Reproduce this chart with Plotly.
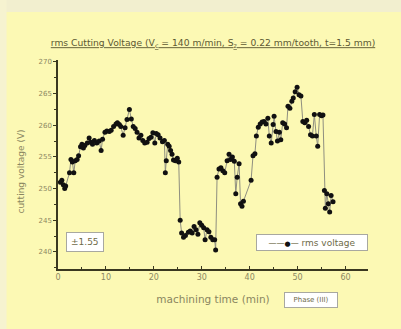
import plotly.graph_objects as go

time_min = [0.5, 0.8, 1.1, 1.4, 1.6, 2.4, 2.7, 3.0, 3.3, 3.6, 4.0, 4.3, 4.7, 5.0, 5.3, 5.6, 6.1, 6.5, 6.8, 7.2,
            7.6, 8.1, 8.6, 9.0, 9.3, 9.8, 10.2, 10.7, 11.1, 11.6, 12.1, 12.4, 12.8, 13.1, 13.6, 14.0, 14.4, 14.9, 15.3, 15.7,
            16.1, 16.5, 16.9, 17.3, 17.7, 18.1, 18.6, 19.0, 19.4, 19.8, 20.2, 20.5, 20.9, 21.3, 21.8, 22.2, 22.4, 22.6, 22.9, 23.2,
            23.5, 23.8, 24.1, 24.5, 24.9, 25.2, 25.5, 25.8, 26.2, 26.6, 27.2, 27.6, 28.0, 28.4, 28.8, 29.2, 29.6, 30.0, 30.4, 30.7,
            31.1, 31.5, 31.9, 32.3, 32.7, 32.9, 33.2, 33.6, 34.0, 34.4, 34.8, 35.3, 35.7, 36.0, 36.4, 36.8, 37.1, 37.4, 37.8, 38.1,
            38.4, 38.7, 40.3, 40.7, 41.1, 41.4, 41.8, 42.2, 42.6, 43.0, 43.4, 43.8, 44.1, 44.5, 44.9, 45.1, 45.5, 45.8, 46.2, 46.5,
            46.9, 47.3, 47.7, 48.0, 48.4, 48.8, 49.1, 49.5, 49.9, 50.3, 50.7, 51.1, 51.5, 51.9, 52.3, 52.7, 53.1, 53.5, 53.9, 54.2,
            54.6, 55.0, 55.3, 55.6, 55.8, 56.1, 56.4, 56.7, 57.0, 57.4]
rms_voltage = [251.0, 251.3, 250.6, 250.0, 250.4, 252.5, 254.6, 254.2, 252.5, 254.4, 254.6, 255.2, 256.6, 257.0, 256.4, 256.8, 257.2, 258.0, 257.3, 257.0,
               257.6, 257.2, 257.5, 256.0, 257.8, 258.9, 259.1, 259.0, 259.2, 259.8, 260.2, 260.4, 260.1, 259.8, 258.4, 259.6, 260.9, 262.5, 261.0, 259.8,
               259.5, 258.9, 258.0, 258.4, 257.6, 257.2, 257.3, 257.9, 258.1, 258.8, 257.2, 258.7, 258.5, 258.0, 257.4, 257.6, 252.5, 254.4, 257.0, 256.7,
               256.0, 255.4, 254.5, 254.4, 254.8, 254.2, 245.0, 243.0, 242.3, 242.6, 243.1, 243.3, 243.0, 244.0, 243.5, 242.8, 244.6, 244.2, 243.8, 241.9,
               243.5, 243.2, 242.3, 241.9, 241.9, 240.3, 251.8, 253.1, 253.3, 252.8, 252.5, 254.4, 255.4, 254.6, 255.0, 254.3, 249.2, 251.8, 253.9, 247.6,
               247.2, 248.0, 251.3, 255.2, 255.5, 258.3, 259.7, 260.2, 260.5, 260.6, 260.2, 261.1, 258.3, 257.2, 260.1, 261.4, 259.0, 257.5, 258.9, 257.7,
               260.4, 260.2, 259.6, 263.0, 262.7, 263.8, 264.3, 265.3, 266.0, 264.8, 264.6, 260.6, 260.4, 260.8, 259.8, 258.5, 258.3, 261.7, 258.3, 256.7,
               261.7, 261.5, 261.6, 249.7, 246.9, 249.2, 247.6, 246.3, 248.9, 247.9]

x_ticks = [0, 10, 20, 30, 40, 50, 60]
y_ticks = [240, 245, 250, 255, 260, 265, 270]
series_name = "rms voltage"

axis_col = "#3a3820"
label_col = "#8c8862"
bg = "#fcf9b4"
line_col = "#8f8f80"

fig = go.Figure()
fig.add_trace(go.Scatter(
    x=time_min, y=rms_voltage, mode="lines+markers", name=series_name,
    line=dict(color=line_col, width=1),
    marker=dict(color="#111111", size=5),
    showlegend=False,
))

legend_text = (f"<span style='color:#6e6a48;font-size:8px'>——</span>"
               f"<span style='color:#111111;font-size:7px'>●</span>"
               f"<span style='color:#6e6a48;font-size:8px'>—</span> {series_name}")

fig.update_layout(
    width=401, height=329,
    margin=dict(l=57.5, r=33, t=60, b=60, autoexpand=False),
    paper_bgcolor=bg, plot_bgcolor=bg,
    font=dict(family="DejaVu Sans", color=label_col, size=8),
    title=dict(
        text="<u>rms Cutting Voltage (V<sub>c</sub> = 140 m/min, S<sub>z</sub> = 0.22 mm/tooth, t=1.5 mm)</u>",
        x=0.5, xanchor="center", xref="paper", y=1 - 43 / 329, yanchor="middle",
        font=dict(size=9.2, color="#5c5832", family="DejaVu Sans"),
    ),
    showlegend=False,
    shapes=[
        dict(type="rect", xref="paper", yref="paper", x0=-0.2, x1=1.12,
             y0=(269 - 12) / 209, y1=1.3, fillcolor="#f2efcf", line=dict(width=0), layer="below"),
        dict(type="rect", xref="paper", yref="paper", x0=-0.2, x1=-0.166,
             y0=-0.3, y1=1.3, fillcolor="#f6f3d0", line=dict(width=0), layer="below"),
    ],
    annotations=[
        dict(text="cutting voltage (V)", xref="paper", yref="paper", x=(20 - 57.5) / 310.5, y=(269 - 172) / 209,
             xanchor="center", yanchor="middle", textangle=-90, showarrow=False,
             font=dict(size=9, color="#8a8660")),
        dict(text="±1.55", xref="paper", yref="paper", x=0.0886, y=0.129,
             xanchor="center", yanchor="middle",
             showarrow=False, bgcolor="#ffffff", bordercolor="#a8a8a0", borderwidth=1,
             borderpad=4, font=dict(size=9, color="#6e6a48")),
        dict(text=legend_text, xref="paper", yref="paper", x=0.82, y=0.129,
             xanchor="center", yanchor="middle", width=106, height=11, align="center",
             showarrow=False, bgcolor="#ffffff", bordercolor="#a8a8a0", borderwidth=1,
             borderpad=2, font=dict(size=9, color="#6e6a48")),
        dict(text="Phase (III)", xref="paper", yref="paper", x=0.816, y=-0.148,
             xanchor="center", yanchor="middle", width=46,
             showarrow=False, bgcolor="#ffffff", bordercolor="#a8a8a0", borderwidth=1,
             borderpad=3, font=dict(size=7, color="#6e6a48")),
    ],
)

fig.update_xaxes(
    range=[0, 64.7], tickvals=x_ticks, ticks="inside", ticklen=3, tickwidth=1, tickcolor=axis_col,
    minor=dict(dtick=5, tick0=0, ticks="inside", ticklen=2, tickcolor=axis_col),
    showline=True, linecolor=axis_col, linewidth=1.5, showgrid=False, zeroline=False,
    tickfont=dict(size=8, color=label_col),
    title=dict(text="machining time (min)", font=dict(size=10.5, color="#8a8660"), standoff=14),
)
fig.update_yaxes(
    range=[237.3, 270.3], tickvals=y_ticks, ticks="outside", ticklen=3, tickwidth=1, tickcolor=axis_col,
    minor=dict(dtick=2.5, tick0=240, ticks="outside", ticklen=2, tickcolor=axis_col),
    showline=True, linecolor=axis_col, linewidth=1.5, showgrid=False, zeroline=False,
    tickfont=dict(size=7, color=label_col),
)

fig.write_html("out.html", post_script="document.body.style.margin='0px';",
               config={"displayModeBar": False})
